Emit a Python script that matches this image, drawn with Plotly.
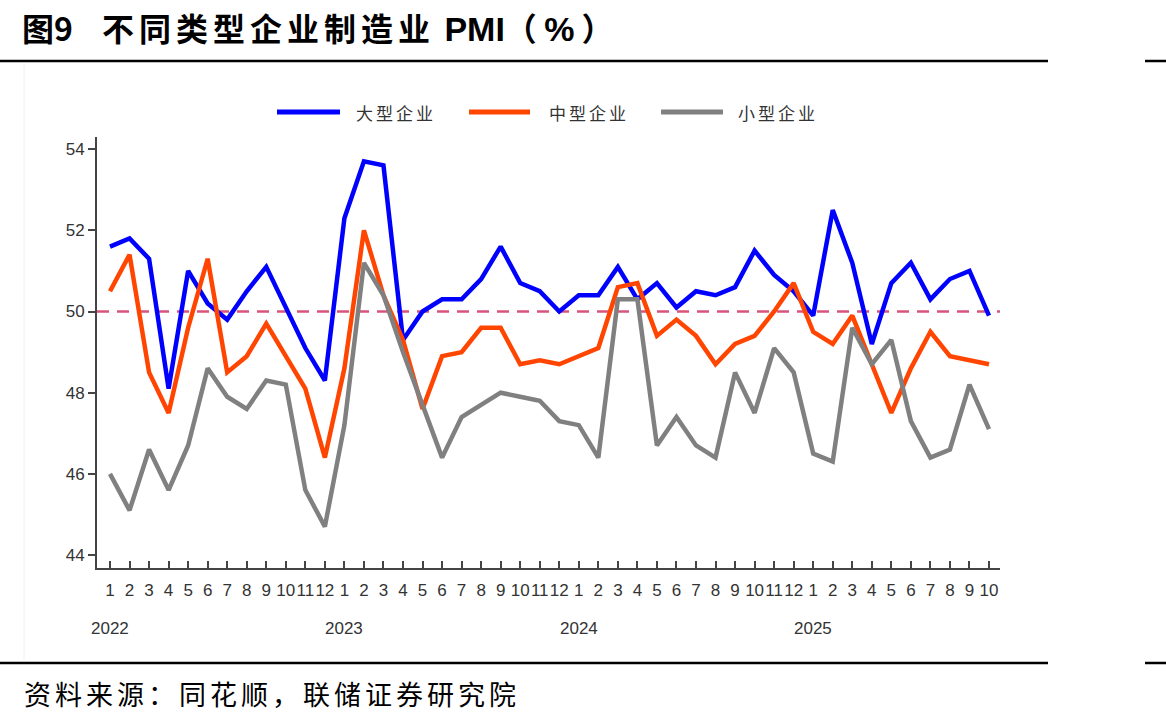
import plotly.graph_objects as go

months = ["1","2","3","4","5","6","7","8","9","10","11","12"] * 3 + ["1","2","3","4","5","6","7","8","9","10"]
years = ["2022", "2023", "2024", "2025"]
year_idx = [0, 12, 24, 36]

large = [51.6, 51.8, 51.3, 48.1, 51.0, 50.2, 49.8, 50.5, 51.1, 50.1, 49.1, 48.3,
         52.3, 53.7, 53.6, 49.3, 50.0, 50.3, 50.3, 50.8, 51.6, 50.7, 50.5, 50.0,
         50.4, 50.4, 51.1, 50.3, 50.7, 50.1, 50.5, 50.4, 50.6, 51.5, 50.9, 50.5,
         49.9, 52.5, 51.2, 49.2, 50.7, 51.2, 50.3, 50.8, 51.0, 49.9]
medium = [50.5, 51.4, 48.5, 47.5, 49.6, 51.3, 48.5, 48.9, 49.7, 48.9, 48.1, 46.4,
          48.6, 52.0, 50.4, 49.3, 47.6, 48.9, 49.0, 49.6, 49.6, 48.7, 48.8, 48.7,
          48.9, 49.1, 50.6, 50.7, 49.4, 49.8, 49.4, 48.7, 49.2, 49.4, 50.0, 50.7,
          49.5, 49.2, 49.9, 48.7, 47.5, 48.6, 49.5, 48.9, 48.8, 48.7]
small = [46.0, 45.1, 46.6, 45.6, 46.7, 48.6, 47.9, 47.6, 48.3, 48.2, 45.6, 44.7,
         47.2, 51.2, 50.4, 49.0, 47.7, 46.4, 47.4, 47.7, 48.0, 47.9, 47.8, 47.3,
         47.2, 46.4, 50.3, 50.3, 46.7, 47.4, 46.7, 46.4, 48.5, 47.5, 49.1, 48.5,
         46.5, 46.3, 49.6, 48.7, 49.3, 47.3, 46.4, 46.6, 48.2, 47.1]

names = ["大型企业", "中型企业", "小型企业"]
colors = ["#0000FF", "#FF4500", "#808080"]
threshold = 50

W, H = 1166, 724
L, R, T, B = 97, 1000, 137, 568


def px(x):
    return (x - L) / (R - L)


def py(y):
    return (B - y) / (B - T)


xs = list(range(len(months)))
fig = go.Figure()
for vals, nm, c in zip([large, medium, small], names, colors):
    fig.add_trace(go.Scatter(x=xs, y=vals, mode="lines", name=nm,
                             line=dict(color=c, width=4.5), showlegend=False))

shapes = []
shapes.append(dict(type="line", xref="paper", yref="y", x0=0, x1=1,
                   y0=threshold, y1=threshold, layer="below",
                   line=dict(color="#D9547C", width=2.5, dash="12px,8px")))
for yy in [61, 663]:
    shapes.append(dict(type="line", xref="paper", yref="paper", x0=px(0), x1=px(1048),
                       y0=py(yy), y1=py(yy), line=dict(color="black", width=2.5)))
    shapes.append(dict(type="line", xref="paper", yref="paper", x0=px(1145), x1=px(1166),
                       y0=py(yy), y1=py(yy), line=dict(color="black", width=2.5)))
shapes.append(dict(type="line", xref="paper", yref="paper", x0=px(24), x1=px(24),
                   y0=py(64), y1=py(660), line=dict(color="#F0F0F0", width=1)))

leg_lines = [(277, 340), (469, 530), (661, 723)]
leg_text = [354, 547, 736]
annotations = []
for (a, b), tx, nm, c in zip(leg_lines, leg_text, names, colors):
    shapes.append(dict(type="line", xref="paper", yref="paper", x0=px(a), x1=px(b),
                       y0=py(112), y1=py(112), line=dict(color=c, width=5)))
    annotations.append(dict(xref="paper", yref="paper", x=px(tx), y=py(113),
                            xanchor="left", yanchor="middle", showarrow=False,
                            text='<span style="letter-spacing:3px">' + nm + '</span>',
                            font=dict(family="Noto Sans CJK SC", size=17, color="#333333")))

for yi, yl in zip(year_idx, years):
    annotations.append(dict(xref="x", yref="paper", x=yi, y=py(628), xanchor="center",
                            yanchor="middle", showarrow=False, text=yl,
                            font=dict(family="Liberation Sans, Arial", size=17, color="#333333")))

annotations.append(dict(xref="paper", yref="paper", x=px(20), y=py(27), xanchor="left",
                        yanchor="middle", showarrow=False,
                        text='<b>图9&nbsp;&nbsp;&nbsp;&nbsp;<span style="letter-spacing:5px">不同类型企业制造业</span>'
                             '<span style="font-family:Liberation Sans, Arial;font-size:34px">&nbsp;PMI</span>'
                             '（&nbsp;<span style="font-family:Liberation Sans, Arial;font-size:34px">%</span>&nbsp;）</b>',
                        font=dict(family="Noto Sans CJK SC", size=32, color="black")))
annotations.append(dict(xref="paper", yref="paper", x=px(22), y=py(693), xanchor="left",
                        yanchor="middle", showarrow=False,
                        text='<span style="letter-spacing:4px">资料来源：同花顺，联储证券研究院</span>',
                        font=dict(family="Noto Sans CJK SC", size=27, color="black")))

fig.update_layout(
    width=W, height=H, margin=dict(l=L, r=W - R, t=T, b=H - B),
    paper_bgcolor="white", plot_bgcolor="white",
    shapes=shapes, annotations=annotations, showlegend=False,
    xaxis=dict(range=[-(110 - L) / 19.533, 45 + (R - 989) / 19.533], tickmode="array",
               tickvals=xs, ticktext=months, tickangle=0, ticks="inside", ticklen=7,
               tickwidth=1.5, tickcolor="#444444", showline=True, linecolor="#444444",
               linewidth=2, showgrid=False, zeroline=False, ticklabelstandoff=6,
               tickfont=dict(family="Liberation Sans, Arial", size=17, color="#333333")),
    yaxis=dict(range=[43.68, 54.3], tickvals=[44, 46, 48, 50, 52, 54], ticks="outside",
               ticklen=7, tickwidth=1.5, tickcolor="#444444", showline=True,
               linecolor="#444444", linewidth=2, showgrid=False, zeroline=False,
               tickfont=dict(family="Liberation Sans, Arial", size=17, color="#333333")),
)

fig.write_html("out.html")
